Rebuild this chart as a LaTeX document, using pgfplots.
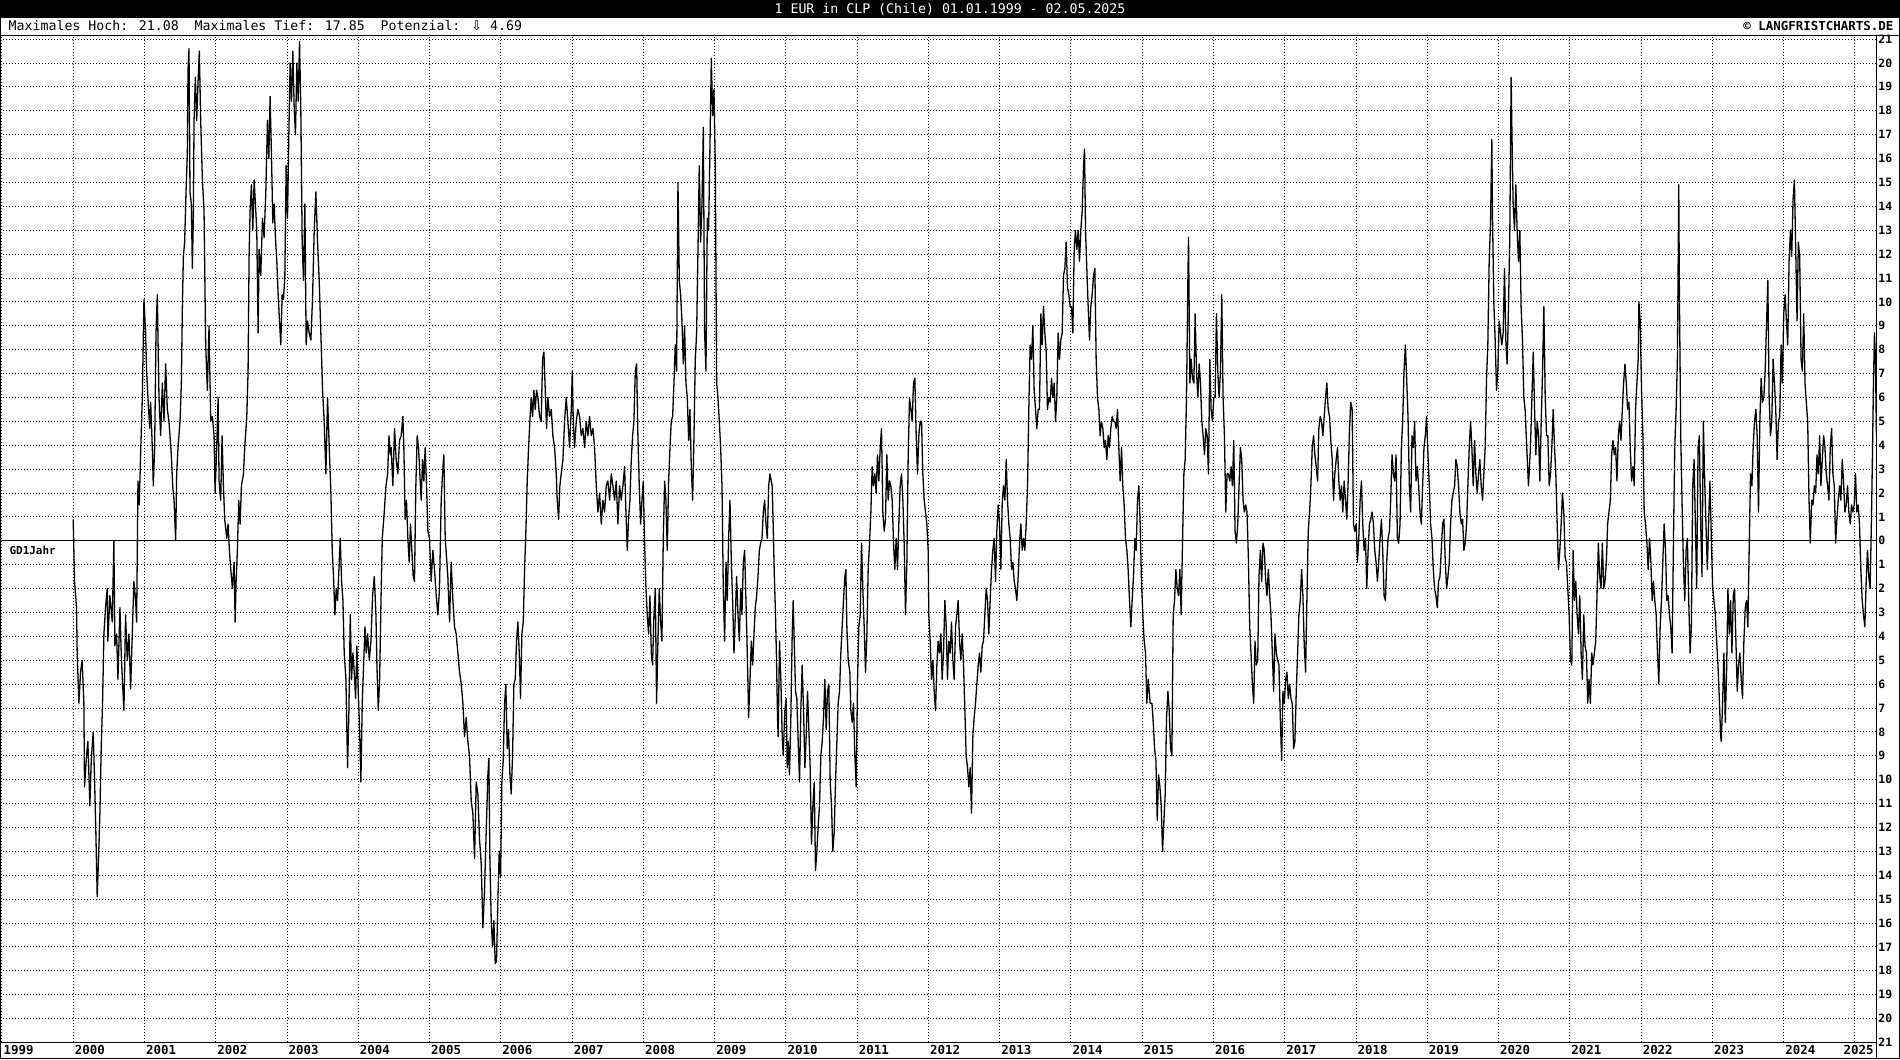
\documentclass[border=0pt]{standalone}
\usepackage{fontspec}
\setmainfont{DejaVu Sans Mono}
\newfontfamily\arrowfont{DejaVu Sans}
\usepackage{pgfplots}
\pgfplotsset{compat=1.18}
\begin{document}
\begin{tikzpicture}[x=1bp,y=1bp]
\path[fill=white] (0,0) rectangle (1900,1060);
\fill[black] (0,1042) rectangle (1900,1060);
\node[text=white, font=\fontsize{13.3}{13}\selectfont, inner sep=0] at (950,1051) {1 EUR in CLP (Chile) 01.01.1999 - 02.05.2025};
\node[anchor=base west, font=\fontsize{13.3}{13}\selectfont, inner sep=0] at (8,1029) {Maximales Hoch: 21.08\ \ Maximales Tief: 17.85\ \ Potenzial: {\arrowfont ⇩} 4.69};
\node[anchor=base east, font=\fontsize{12.5}{13}\selectfont\bfseries, inner sep=0] at (1894,1029) {© LANGFRISTCHARTS.DE};
\begin{axis}[
  at={(0bp,17bp)}, anchor=south west,
  width=1876.7bp, height=1007bp, scale only axis,
  xmin=1998.98, xmax=2025.30, ymin=-21, ymax=21.13,
  xtick={1999,2000,2001,2002,2003,2004,2005,2006,2007,2008,2009,2010,2011,2012,2013,2014,2015,2016,2017,2018,2019,2020,2021,2022,2023,2024,2025},
  xticklabels={1999,2000,2001,2002,2003,2004,2005,2006,2007,2008,2009,2010,2011,2012,2013,2014,2015,2016,2017,2018,2019,2020,2021,2022,2023,2024,\hspace*{-13bp}2025},
  ytick={-21,-20,...,21},
  yticklabels={21,20,19,18,17,16,15,14,13,12,11,10,9,8,7,6,5,4,3,2,1,0,1,2,3,4,5,6,7,8,9,10,11,12,13,14,15,16,17,18,19,20,21},
  yticklabel pos=right,
  grid=major,
  major grid style={black, line width=0.9bp, dash pattern=on 1bp off 2bp},
  major tick length=0pt,
  axis line style={line width=1bp},
  xticklabel style={font=\fontsize{12.5}{12.5}\selectfont\bfseries, anchor=north west, inner sep=1.5bp, yshift=-1bp},
  yticklabel style={font=\fontsize{11.5}{11.5}\selectfont\bfseries, anchor=west, inner sep=2bp},
]
\addplot[black, line width=1bp, forget plot] coordinates {(1998.98,0) (2025.30,0)};
\node[anchor=north west, inner sep=0, font=\fontsize{11}{11}\selectfont\bfseries] at (axis cs:1999.105,-0.2) {GD1Jahr};
\addplot[black, line width=1.3bp, line join=round] coordinates {
(2000.000,0.9) (2000.019,-1.7) (2000.047,-2.8) (2000.056,-4.7) (2000.080,-6.8) (2000.103,-5.5) (2000.126,-5.0) (2000.150,-6.8) (2000.159,-10.3) (2000.187,-9.0) (2000.206,-8.4) (2000.234,-11.1) (2000.253,-9.2) (2000.281,-8.0) (2000.300,-10.0) (2000.318,-12.2) (2000.337,-14.9) (2000.356,-13.3) (2000.375,-11.4) (2000.393,-8.7) (2000.412,-6.8) (2000.431,-3.9) (2000.454,-2.8) (2000.478,-2.0) (2000.487,-4.2) (2000.515,-2.3) (2000.548,-3.4) (2000.571,0.0) (2000.585,-4.4) (2000.609,-3.9) (2000.628,-5.8) (2000.656,-2.8) (2000.674,-4.7) (2000.693,-6.0) (2000.712,-7.1) (2000.735,-3.1) (2000.759,-5.0) (2000.782,-3.9) (2000.806,-6.2) (2000.829,-3.9) (2000.852,-1.7) (2000.876,-2.5) (2000.890,-3.4) (2000.909,2.5) (2000.927,1.5) (2000.946,3.6) (2000.970,6.0) (2000.993,10.1) (2001.016,8.7) (2001.030,7.1) (2001.049,6.0) (2001.073,4.7) (2001.087,5.8) (2001.110,3.9) (2001.124,2.3) (2001.143,3.9) (2001.162,8.7) (2001.180,10.3) (2001.204,6.0) (2001.227,4.4) (2001.251,6.6) (2001.274,5.0) (2001.297,7.4) (2001.321,5.5) (2001.344,5.0) (2001.377,3.6) (2001.396,2.3) (2001.415,1.7) (2001.438,0.0) (2001.452,2.8) (2001.471,3.9) (2001.499,5.0) (2001.518,6.6) (2001.532,9.8) (2001.546,11.9) (2001.564,12.5) (2001.583,14.6) (2001.602,16.2) (2001.611,19.7) (2001.625,20.6) (2001.639,14.6) (2001.658,14.1) (2001.672,11.4) (2001.686,13.5) (2001.696,17.6) (2001.714,19.4) (2001.733,17.6) (2001.752,19.2) (2001.770,20.5) (2001.789,17.6) (2001.813,15.1) (2001.836,13.8) (2001.859,8.2) (2001.883,6.3) (2001.906,9.0) (2001.930,5.0) (2001.953,5.2) (2001.977,4.4) (2001.991,2.0) (2002.014,3.9) (2002.033,6.0) (2002.047,2.5) (2002.070,1.7) (2002.089,4.4) (2002.108,2.3) (2002.126,0.9) (2002.155,0.1) (2002.173,0.7) (2002.192,-0.4) (2002.211,-1.2) (2002.234,-2.0) (2002.258,-0.9) (2002.272,-3.4) (2002.286,-1.7) (2002.304,-0.4) (2002.323,1.7) (2002.342,0.7) (2002.361,2.3) (2002.389,2.8) (2002.407,3.9) (2002.436,5.2) (2002.454,7.1) (2002.468,11.9) (2002.482,13.8) (2002.501,14.9) (2002.520,13.0) (2002.539,15.1) (2002.557,14.1) (2002.576,13.0) (2002.595,8.7) (2002.609,12.2) (2002.632,11.1) (2002.656,13.5) (2002.679,12.7) (2002.703,14.6) (2002.726,17.6) (2002.745,16.0) (2002.763,18.6) (2002.782,16.2) (2002.801,13.3) (2002.820,14.1) (2002.838,12.7) (2002.857,11.7) (2002.876,10.3) (2002.895,9.2) (2002.913,8.2) (2002.932,10.3) (2002.951,10.1) (2002.970,11.1) (2002.988,15.7) (2003.007,13.5) (2003.026,17.0) (2003.044,20.0) (2003.063,18.4) (2003.082,20.5) (2003.101,18.1) (2003.119,17.0) (2003.138,20.0) (2003.157,18.4) (2003.176,20.9) (2003.194,18.1) (2003.213,12.5) (2003.232,10.9) (2003.251,14.1) (2003.269,8.2) (2003.288,9.2) (2003.311,8.7) (2003.335,8.4) (2003.358,10.1) (2003.382,13.0) (2003.405,14.6) (2003.429,12.5) (2003.452,10.9) (2003.475,8.7) (2003.499,6.3) (2003.522,5.0) (2003.546,2.8) (2003.569,6.0) (2003.593,3.9) (2003.616,2.0) (2003.635,-0.4) (2003.653,-1.5) (2003.672,-3.1) (2003.691,-2.0) (2003.710,-2.5) (2003.733,-0.9) (2003.747,0.1) (2003.766,-1.7) (2003.785,-2.5) (2003.803,-4.7) (2003.827,-5.8) (2003.850,-9.5) (2003.869,-7.1) (2003.888,-3.1) (2003.906,-5.8) (2003.925,-4.7) (2003.944,-5.5) (2003.963,-6.6) (2003.981,-4.4) (2004.000,-6.3) (2004.019,-7.9) (2004.037,-10.1) (2004.056,-6.8) (2004.075,-5.2) (2004.094,-3.6) (2004.112,-4.7) (2004.131,-3.9) (2004.155,-5.0) (2004.178,-4.2) (2004.201,-2.3) (2004.225,-1.5) (2004.248,-3.1) (2004.262,-5.2) (2004.281,-7.1) (2004.300,-5.8) (2004.319,-2.5) (2004.337,0.1) (2004.365,1.2) (2004.389,2.3) (2004.412,2.8) (2004.431,4.4) (2004.450,3.6)
(2004.462,3.9) (2004.485,2.3) (2004.509,4.7) (2004.532,3.4) (2004.555,2.8) (2004.579,4.2) (2004.602,4.4) (2004.626,5.2) (2004.640,3.9) (2004.658,0.9) (2004.677,1.7) (2004.696,0.1) (2004.715,-0.9) (2004.733,0.7) (2004.752,-0.4) (2004.771,-1.5) (2004.789,-1.7) (2004.808,2.3) (2004.827,4.4) (2004.846,3.9) (2004.864,2.8) (2004.883,1.7) (2004.902,3.4) (2004.920,2.5) (2004.939,3.9) (2004.958,2.3) (2004.977,0.4) (2005.000,0.1) (2005.023,-1.7) (2005.047,-0.4) (2005.070,-1.2) (2005.094,-2.3) (2005.117,-3.1) (2005.140,-2.0) (2005.164,1.7) (2005.182,2.8) (2005.201,3.6) (2005.220,0.1) (2005.239,-0.7) (2005.257,-1.5) (2005.281,-3.4) (2005.304,-0.9) (2005.328,-2.5) (2005.351,-3.6) (2005.374,-3.9) (2005.398,-4.7) (2005.421,-5.5) (2005.445,-6.0) (2005.468,-6.8) (2005.491,-8.2) (2005.515,-7.4) (2005.538,-8.4) (2005.561,-9.0) (2005.585,-10.9) (2005.608,-11.4) (2005.632,-13.3) (2005.655,-10.1) (2005.678,-10.6) (2005.702,-12.5) (2005.725,-13.5) (2005.749,-16.2) (2005.772,-14.6) (2005.795,-12.2) (2005.819,-9.8) (2005.833,-9.1) (2005.847,-13.3) (2005.866,-15.9) (2005.884,-17.0) (2005.903,-15.9) (2005.922,-17.7) (2005.940,-17.6) (2005.959,-15.1) (2005.978,-13.0) (2005.997,-14.1) (2006.015,-10.1) (2006.034,-9.2) (2006.053,-6.8) (2006.071,-6.0) (2006.090,-8.7) (2006.109,-7.9) (2006.128,-9.8) (2006.146,-10.6) (2006.165,-9.0) (2006.184,-6.0) (2006.203,-5.8) (2006.221,-4.2) (2006.240,-3.4) (2006.259,-4.7) (2006.277,-6.6) (2006.296,-3.9) (2006.315,-3.4) (2006.334,-1.2) (2006.352,0.4) (2006.371,2.5) (2006.390,3.9) (2006.408,5.0) (2006.427,6.0) (2006.446,5.2) (2006.465,6.3) (2006.483,5.5) (2006.502,6.3) (2006.521,6.0) (2006.544,5.2) (2006.567,5.0) (2006.586,7.6) (2006.605,7.9) (2006.624,6.3) (2006.642,4.7) (2006.661,6.0) (2006.684,5.2) (2006.708,5.5) (2006.731,4.4) (2006.755,3.9) (2006.778,2.8) (2006.792,1.7) (2006.811,0.9) (2006.829,2.3) (2006.848,2.8) (2006.872,3.4) (2006.895,5.0) (2006.918,6.0) (2006.942,5.0) (2006.965,3.9) (2006.989,5.5) (2007.003,7.1) (2007.017,5.0) (2007.035,3.9) (2007.059,5.0) (2007.082,5.5) (2007.106,5.2) (2007.129,4.4) (2007.152,4.7) (2007.176,3.9) (2007.199,5.0) (2007.223,4.4) (2007.246,5.2) (2007.269,4.4) (2007.293,4.7) (2007.316,3.9) (2007.340,2.3) (2007.363,1.2) (2007.386,2.0) (2007.410,0.7) (2007.433,1.7) (2007.456,1.2) (2007.480,2.3) (2007.503,2.5) (2007.527,1.7) (2007.550,2.8) (2007.573,2.3) (2007.597,1.7) (2007.620,2.5) (2007.644,0.7) (2007.667,2.3) (2007.690,1.7) (2007.714,2.3) (2007.737,3.1) (2007.756,1.2) (2007.775,-0.4) (2007.793,0.9) (2007.812,1.7) (2007.831,3.4) (2007.850,4.4) (2007.868,5.0) (2007.887,7.1) (2007.906,7.4) (2007.924,4.4) (2007.943,2.3) (2007.962,0.7) (2007.981,1.7) (2007.999,2.5) (2008.018,-0.1) (2008.037,-2.0) (2008.055,-3.1) (2008.074,-3.9) (2008.093,-2.3) (2008.112,-4.7) (2008.130,-5.2) (2008.149,-3.1) (2008.168,-2.0) (2008.186,-6.8) (2008.205,-4.2) (2008.224,-2.0) (2008.243,-3.4) (2008.261,-4.2) (2008.280,0.1) (2008.299,2.5) (2008.317,1.7) (2008.336,-0.4) (2008.355,2.5) (2008.374,3.9) (2008.392,5.0) (2008.411,5.2) (2008.430,6.6) (2008.448,8.2) (2008.467,7.1) (2008.486,15.0) (2008.505,10.9) (2008.523,10.3) (2008.542,9.2) (2008.561,7.4) (2008.579,9.0) (2008.598,6.6) (2008.617,6.0) (2008.636,4.2) (2008.654,5.5) (2008.673,3.1) (2008.692,1.7) (2008.711,4.4) (2008.729,7.6) (2008.748,8.7) (2008.767,12.2) (2008.785,15.7) (2008.804,12.5) (2008.823,14.1) (2008.842,17.3) (2008.860,8.7) (2008.879,7.1) (2008.898,13.5) (2008.916,13.0) (2008.935,16.5) (2008.954,20.2) (2008.973,17.8) (2008.991,18.9) (2009.010,15.7) (2009.029,6.6) (2009.047,6.0) (2009.066,5.0) (2009.085,3.9) (2009.104,2.3) (2009.122,-2.0) (2009.141,-4.2) (2009.160,-0.9) (2009.178,-2.5) (2009.197,0.1) (2009.216,1.7) (2009.235,-0.9) (2009.253,-2.5) (2009.272,-4.7) (2009.291,-3.1) (2009.309,-1.5) (2009.328,-3.1) (2009.347,-4.2) (2009.366,-2.0) (2009.384,-3.1) (2009.403,-0.9) (2009.422,-0.4) (2009.440,-2.5) (2009.459,-4.7) (2009.478,-7.4) (2009.497,-5.8) (2009.515,-4.2) (2009.534,-5.2) (2009.553,-3.9) (2009.571,-2.8) (2009.590,-2.3) (2009.609,-1.5) (2009.628,-0.4) (2009.646,-0.1) (2009.665,0.1) (2009.684,1.2) (2009.702,1.7) (2009.721,0.7) (2009.740,0.1) (2009.759,2.3) (2009.777,2.8)
(2009.808,2.3) (2009.822,0.7) (2009.836,-1.2) (2009.855,-3.1) (2009.869,-5.0) (2009.883,-7.4) (2009.892,-8.2) (2009.911,-4.2) (2009.930,-5.8) (2009.949,-8.2) (2009.963,-9.0) (2009.986,-7.1) (2010.005,-6.6) (2010.019,-9.5) (2010.033,-8.4) (2010.051,-9.8) (2010.070,-7.4) (2010.089,-3.9) (2010.103,-2.5) (2010.117,-4.2) (2010.136,-6.3) (2010.154,-6.6) (2010.173,-8.4) (2010.192,-10.1) (2010.210,-7.1) (2010.229,-5.2) (2010.248,-7.1) (2010.267,-9.5) (2010.285,-8.2) (2010.304,-6.3) (2010.323,-7.9) (2010.341,-9.5) (2010.360,-12.7) (2010.379,-11.1) (2010.398,-10.1) (2010.416,-13.8) (2010.435,-13.0) (2010.454,-11.9) (2010.472,-11.1) (2010.491,-9.0) (2010.510,-8.4) (2010.529,-7.4) (2010.547,-5.8) (2010.566,-7.9) (2010.585,-6.3) (2010.603,-6.0) (2010.622,-10.1) (2010.641,-11.1) (2010.659,-13.0) (2010.678,-12.2) (2010.697,-10.1) (2010.716,-8.4) (2010.734,-6.8) (2010.753,-6.3) (2010.772,-4.7) (2010.790,-3.6) (2010.809,-2.5) (2010.828,-1.5) (2010.842,-1.2) (2010.856,-3.6) (2010.875,-5.0) (2010.898,-5.5) (2010.912,-7.1) (2010.931,-7.6) (2010.949,-6.8) (2010.968,-9.0) (2010.987,-10.3) (2011.006,-5.8) (2011.024,-3.6) (2011.043,-3.1) (2011.062,-0.1) (2011.080,-2.0) (2011.099,-3.6) (2011.118,-5.5) (2011.137,-3.9) (2011.155,-1.2) (2011.174,-0.1) (2011.193,1.2) (2011.211,3.1) (2011.230,2.3) (2011.249,2.8) (2011.267,2.0) (2011.286,3.6) (2011.305,2.5) (2011.324,3.9) (2011.342,4.7) (2011.361,1.2) (2011.380,0.4) (2011.398,0.9) (2011.417,3.6) (2011.436,1.7) (2011.455,2.5) (2011.473,2.3) (2011.492,1.7) (2011.511,-0.1) (2011.529,-1.2) (2011.548,0.1) (2011.567,-1.2) (2011.585,0.7) (2011.604,2.3) (2011.623,2.8) (2011.642,1.7) (2011.660,-0.1) (2011.679,-3.1) (2011.698,-0.9) (2011.716,3.4) (2011.735,6.0) (2011.754,5.5) (2011.773,5.0) (2011.791,6.6) (2011.810,6.8) (2011.829,4.4) (2011.847,2.8) (2011.866,4.4) (2011.885,5.0) (2011.904,5.0) (2011.922,2.8) (2011.941,1.7) (2011.960,1.2) (2011.978,0.7) (2011.997,-0.4) (2012.006,-3.1) (2012.025,-4.2) (2012.044,-5.8) (2012.063,-5.0) (2012.081,-6.3) (2012.100,-7.1) (2012.119,-5.2) (2012.137,-4.2) (2012.156,-4.7) (2012.175,-3.9) (2012.193,-5.8) (2012.212,-4.7) (2012.231,-2.5) (2012.250,-3.6) (2012.268,-5.8) (2012.287,-4.2) (2012.306,-4.7) (2012.324,-3.4) (2012.343,-5.0) (2012.362,-5.8) (2012.381,-3.6) (2012.399,-3.1) (2012.418,-2.5) (2012.437,-4.2) (2012.455,-5.0) (2012.474,-3.9) (2012.493,-5.2) (2012.512,-7.1) (2012.530,-9.0) (2012.549,-9.5) (2012.568,-10.3) (2012.586,-9.5) (2012.605,-11.4) (2012.624,-8.2) (2012.642,-7.4) (2012.661,-6.8) (2012.680,-6.0) (2012.699,-5.2) (2012.717,-4.7) (2012.736,-5.5) (2012.755,-4.4) (2012.773,-4.2) (2012.792,-3.1) (2012.811,-2.0) (2012.830,-2.5) (2012.848,-3.9) (2012.867,-2.5) (2012.886,-1.2) (2012.904,-0.4) (2012.923,0.1) (2012.942,-1.7) (2012.960,0.4) (2012.979,1.5) (2012.998,0.7) (2013.017,-1.2) (2013.035,1.5) (2013.054,2.3) (2013.073,1.7) (2013.092,3.4) (2013.110,1.7) (2013.129,0.7) (2013.148,0.1) (2013.166,-1.2) (2013.185,-0.9) (2013.204,-1.7) (2013.222,-2.0) (2013.241,-2.5) (2013.260,-1.5) (2013.279,-0.1) (2013.297,0.7) (2013.316,-0.4) (2013.335,0.1) (2013.353,-0.4) (2013.372,0.7) (2013.391,2.3) (2013.409,5.5) (2013.428,8.2) (2013.447,7.6) (2013.466,9.0) (2013.484,6.3) (2013.503,5.5) (2013.522,4.7) (2013.540,5.5) (2013.559,5.5) (2013.578,9.5) (2013.597,8.2) (2013.615,9.8) (2013.634,8.7) (2013.653,7.9) (2013.671,5.5) (2013.690,6.0) (2013.709,5.8) (2013.728,6.8) (2013.746,6.0) (2013.765,6.6) (2013.784,5.0) (2013.802,6.0) (2013.821,8.7) (2013.840,7.6) (2013.858,8.4) (2013.877,8.7) (2013.896,11.1) (2013.915,11.4) (2013.933,12.5) (2013.952,10.6) (2013.971,10.3) (2013.989,9.8) (2014.008,9.8) (2014.027,8.7) (2014.046,12.2) (2014.064,13.0) (2014.083,12.2) (2014.102,13.0) (2014.120,11.7) (2014.139,13.0) (2014.158,13.8) (2014.177,15.7) (2014.191,16.4) (2014.205,13.0) (2014.223,11.4) (2014.242,9.8) (2014.261,8.4) (2014.279,9.8) (2014.298,10.3) (2014.317,11.1) (2014.336,11.4) (2014.354,7.6) (2014.373,6.0) (2014.392,5.5) (2014.410,4.4) (2014.429,5.0) (2014.448,4.7) (2014.467,3.9) (2014.485,4.2) (2014.504,3.4) (2014.523,4.4) (2014.541,3.9) (2014.560,4.7) (2014.579,5.2) (2014.598,5.0) (2014.616,5.0) (2014.635,4.7) (2014.654,5.5) (2014.672,3.9) (2014.691,2.5) (2014.710,3.9) (2014.728,2.3) (2014.747,1.5) (2014.766,0.1) (2014.785,-0.4) (2014.803,-1.2) (2014.822,-2.5) (2014.841,-3.6) (2014.859,-2.5) (2014.878,-1.5) (2014.897,0.1) (2014.916,-0.4) (2014.934,1.7) (2014.953,2.3) (2014.972,0.7) (2014.990,-1.7) (2015.009,-3.1) (2015.028,-4.2) (2015.047,-4.7) (2015.065,-6.8) (2015.084,-5.8) (2015.112,-6.8)
(2015.137,-6.8) (2015.155,-7.6) (2015.174,-8.7) (2015.193,-9.2) (2015.211,-11.7) (2015.230,-9.8) (2015.249,-10.3) (2015.267,-11.1) (2015.286,-13.0) (2015.305,-11.7) (2015.323,-10.6) (2015.342,-7.4) (2015.361,-6.3) (2015.379,-7.1) (2015.398,-8.7) (2015.417,-9.0) (2015.435,-3.1) (2015.454,-2.5) (2015.473,-1.2) (2015.491,-2.0) (2015.510,-2.3) (2015.529,-1.2) (2015.547,-3.1) (2015.566,-0.1) (2015.585,2.8) (2015.603,3.4) (2015.622,6.0) (2015.641,10.9) (2015.650,12.7) (2015.669,6.6) (2015.687,7.6) (2015.706,6.8) (2015.725,6.6) (2015.743,9.5) (2015.762,7.1) (2015.781,6.0) (2015.799,7.4) (2015.818,6.6) (2015.837,5.0) (2015.855,4.4) (2015.874,3.6) (2015.893,4.7) (2015.911,4.4) (2015.930,2.8) (2015.949,7.6) (2015.967,5.5) (2015.986,5.0) (2016.005,6.0) (2016.023,6.0) (2016.042,9.5) (2016.061,7.1) (2016.079,6.0) (2016.098,7.1) (2016.117,10.3) (2016.135,6.0) (2016.154,4.4) (2016.173,1.2) (2016.191,2.8) (2016.210,2.8) (2016.229,2.5) (2016.247,3.1) (2016.266,2.3) (2016.285,4.2) (2016.303,0.4) (2016.322,-0.1) (2016.341,0.7) (2016.359,2.3) (2016.378,3.9) (2016.397,3.4) (2016.415,1.7) (2016.434,1.2) (2016.453,1.5) (2016.471,1.2) (2016.490,-0.7) (2016.509,-3.6) (2016.527,-4.7) (2016.546,-6.0) (2016.565,-6.8) (2016.583,-4.2) (2016.602,-5.2) (2016.621,-5.0) (2016.639,-1.5) (2016.658,-0.4) (2016.677,-1.7) (2016.695,-0.1) (2016.714,-0.4) (2016.733,-1.7) (2016.751,-2.3) (2016.770,-1.2) (2016.789,-2.3) (2016.807,-3.1) (2016.826,-4.7) (2016.845,-6.3) (2016.863,-3.9) (2016.882,-4.7) (2016.901,-5.0) (2016.919,-5.2) (2016.938,-7.4) (2016.957,-9.2) (2016.975,-6.3) (2016.994,-6.8) (2017.013,-5.8) (2017.031,-5.5) (2017.050,-6.6) (2017.069,-6.0) (2017.087,-6.6) (2017.106,-6.8) (2017.125,-8.7) (2017.143,-8.4) (2017.162,-6.3) (2017.181,-4.7) (2017.199,-3.1) (2017.218,-2.5) (2017.237,-1.2) (2017.255,-2.3) (2017.274,-4.4) (2017.293,-5.5) (2017.311,-2.5) (2017.330,0.4) (2017.349,1.2) (2017.367,2.3) (2017.386,3.9) (2017.405,4.4) (2017.423,3.6) (2017.442,3.1) (2017.461,2.5) (2017.479,4.7) (2017.498,5.2) (2017.517,5.0) (2017.535,4.4) (2017.554,5.2) (2017.573,6.0) (2017.591,6.6) (2017.610,5.5) (2017.629,5.2) (2017.647,4.2) (2017.666,3.4) (2017.685,1.7) (2017.703,2.8) (2017.722,3.4) (2017.741,3.9) (2017.759,2.5) (2017.778,1.7) (2017.797,2.3) (2017.815,1.2) (2017.834,2.5) (2017.853,1.7) (2017.871,0.9) (2017.890,2.5) (2017.909,4.7) (2017.927,5.8) (2017.946,5.5) (2017.965,0.7) (2017.983,0.4) (2018.002,0.7) (2018.021,-0.9) (2018.039,0.1) (2018.058,1.7) (2018.077,2.5) (2018.095,0.7) (2018.114,-0.4) (2018.133,0.1) (2018.151,-2.0) (2018.170,-0.4) (2018.189,0.7) (2018.207,0.9) (2018.226,1.2) (2018.245,0.7) (2018.263,-0.4) (2018.282,-0.9) (2018.301,-1.7) (2018.319,-0.9) (2018.338,0.1) (2018.357,0.9) (2018.375,-0.4) (2018.394,-2.3) (2018.413,-2.5) (2018.431,-0.9) (2018.450,0.1) (2018.469,0.4) (2018.487,1.7) (2018.506,3.6) (2018.525,2.8) (2018.543,2.5) (2018.562,3.6) (2018.581,0.1) (2018.599,-0.1) (2018.618,0.7) (2018.637,3.9) (2018.655,5.0) (2018.674,7.1) (2018.693,8.2) (2018.711,6.8) (2018.730,5.2) (2018.749,2.3) (2018.767,1.2) (2018.786,4.4) (2018.805,3.9) (2018.823,5.0) (2018.842,2.5) (2018.861,3.1) (2018.879,2.3) (2018.898,1.2) (2018.917,0.7) (2018.935,2.3) (2018.954,3.9) (2018.973,4.4) (2018.991,5.2) (2019.010,3.6) (2019.029,2.3) (2019.047,0.7) (2019.066,0.1) (2019.085,-1.2) (2019.103,-2.0) (2019.122,-2.3) (2019.141,-2.8) (2019.159,-1.7) (2019.178,-1.5) (2019.197,-0.4) (2019.215,0.7) (2019.234,0.9) (2019.253,-0.9) (2019.272,-2.0) (2019.290,-1.5) (2019.309,-0.9) (2019.327,0.7) (2019.346,1.7) (2019.365,2.0) (2019.384,2.3) (2019.402,3.4) (2019.421,3.1) (2019.439,2.3) (2019.458,1.2) (2019.477,0.7) (2019.496,0.9) (2019.514,-0.4) (2019.533,-0.1) (2019.552,0.7) (2019.570,2.3) (2019.589,3.9) (2019.608,5.0) (2019.626,3.9) (2019.645,2.3) (2019.664,4.2) (2019.682,2.8) (2019.701,2.0) (2019.720,2.8) (2019.738,3.4) (2019.757,2.3) (2019.776,1.7) (2019.794,2.8) (2019.813,3.9) (2019.832,6.8) (2019.850,8.2) (2019.869,11.7) (2019.888,13.3) (2019.906,16.8) (2019.916,13.5) (2019.934,10.0) (2019.953,8.4) (2019.972,6.3) (2019.990,7.1) (2020.009,9.2) (2020.028,8.7) (2020.046,8.2) (2020.065,8.7) (2020.084,11.4) (2020.102,8.4) (2020.121,7.4) (2020.140,9.8) (2020.158,12.7) (2020.177,19.4) (2020.187,17.3) (2020.205,14.1) (2020.224,13.0) (2020.243,14.9) (2020.261,13.0) (2020.280,11.7) (2020.299,13.0) (2020.317,9.8) (2020.336,8.4) (2020.355,6.0) (2020.373,5.5) (2020.392,4.2) (2020.420,2.3) (2020.448,3.9)
(2020.469,6.0) (2020.487,7.9) (2020.506,5.5) (2020.524,3.6) (2020.543,5.0) (2020.562,4.4) (2020.580,2.5) (2020.599,5.0) (2020.618,7.1) (2020.636,9.8) (2020.655,6.0) (2020.674,4.4) (2020.692,4.4) (2020.711,2.3) (2020.730,2.8) (2020.748,3.9) (2020.767,5.5) (2020.786,3.9) (2020.804,2.8) (2020.823,0.7) (2020.841,-1.2) (2020.860,-0.4) (2020.879,0.7) (2020.897,2.0) (2020.916,1.2) (2020.935,-0.7) (2020.953,-0.9) (2020.972,-2.0) (2020.991,-3.1) (2021.009,-5.0) (2021.028,-5.2) (2021.047,-0.4) (2021.065,-2.5) (2021.084,-1.7) (2021.103,-3.1) (2021.121,-3.9) (2021.140,-2.3) (2021.159,-4.7) (2021.177,-5.8) (2021.196,-3.1) (2021.214,-4.4) (2021.233,-4.7) (2021.252,-6.8) (2021.270,-5.8) (2021.289,-6.8) (2021.308,-4.7) (2021.326,-5.2) (2021.345,-4.7) (2021.364,-4.2) (2021.382,-2.3) (2021.401,-0.1) (2021.420,-1.5) (2021.438,-2.0) (2021.457,-0.1) (2021.476,-2.0) (2021.494,-1.7) (2021.513,-0.9) (2021.531,0.7) (2021.550,1.2) (2021.569,1.7) (2021.587,3.6) (2021.606,4.2) (2021.625,3.6) (2021.643,3.9) (2021.662,2.5) (2021.681,4.4) (2021.699,5.0) (2021.718,4.2) (2021.737,5.5) (2021.755,6.6) (2021.774,7.4) (2021.793,6.6) (2021.811,5.5) (2021.830,5.8) (2021.848,3.9) (2021.867,2.5) (2021.886,3.1) (2021.904,2.3) (2021.923,5.5) (2021.942,6.6) (2021.960,7.6) (2021.970,10.0) (2021.988,9.2) (2022.007,6.3) (2022.026,4.4) (2022.044,1.2) (2022.063,0.7) (2022.082,-0.1) (2022.100,-1.2) (2022.119,0.1) (2022.138,-0.9) (2022.156,-2.5) (2022.175,-1.7) (2022.193,-2.5) (2022.212,-3.1) (2022.231,-4.7) (2022.249,-6.0) (2022.268,-3.6) (2022.287,-2.5) (2022.305,-0.9) (2022.324,0.7) (2022.343,-0.4) (2022.361,-2.5) (2022.380,-2.3) (2022.399,-3.1) (2022.417,-3.6) (2022.436,-4.7) (2022.455,0.1) (2022.473,3.9) (2022.492,5.5) (2022.510,7.6) (2022.529,14.9) (2022.538,10.3) (2022.557,4.4) (2022.576,1.5) (2022.594,-0.9) (2022.613,-2.5) (2022.632,-0.4) (2022.650,0.1) (2022.669,-2.5) (2022.688,-4.7) (2022.706,-3.6) (2022.725,2.3) (2022.744,3.4) (2022.762,0.7) (2022.781,-2.0) (2022.800,3.9) (2022.818,4.4) (2022.837,0.7) (2022.855,-1.5) (2022.874,5.0) (2022.893,2.5) (2022.911,0.7) (2022.930,-1.2) (2022.949,0.9) (2022.967,2.5) (2022.986,0.1) (2023.005,-2.0) (2023.023,-2.5) (2023.042,-3.1) (2023.061,-4.2) (2023.079,-5.2) (2023.098,-6.6) (2023.117,-8.2) (2023.126,-8.4) (2023.144,-6.8) (2023.163,-4.7) (2023.182,-7.6) (2023.200,-5.5) (2023.219,-2.0) (2023.238,-3.9) (2023.256,-2.5) (2023.275,-4.7) (2023.294,-2.3) (2023.312,-2.0) (2023.331,-4.2) (2023.350,-6.3) (2023.368,-5.2) (2023.387,-4.7) (2023.406,-5.8) (2023.424,-6.6) (2023.443,-4.2) (2023.462,-2.8) (2023.480,-2.5) (2023.499,-3.6) (2023.517,-0.4) (2023.536,2.8) (2023.555,2.3) (2023.573,3.9) (2023.592,5.0) (2023.611,5.5) (2023.629,4.4) (2023.648,1.2) (2023.667,5.0) (2023.685,6.8) (2023.704,5.8) (2023.723,6.0) (2023.741,7.1) (2023.760,9.0) (2023.779,10.9) (2023.797,6.0) (2023.816,4.4) (2023.834,5.0) (2023.853,7.6) (2023.872,6.6) (2023.890,5.5) (2023.909,3.4) (2023.928,5.0) (2023.946,5.2) (2023.965,8.2) (2023.984,6.6) (2024.002,9.5) (2024.021,10.3) (2024.040,9.2) (2024.058,8.2) (2024.077,11.7) (2024.096,13.0) (2024.114,11.9) (2024.133,14.3) (2024.152,15.1) (2024.170,12.2) (2024.189,9.2) (2024.207,12.5) (2024.226,11.9) (2024.245,7.6) (2024.263,7.1) (2024.282,9.5) (2024.301,6.6) (2024.319,5.8) (2024.338,5.0) (2024.357,1.7) (2024.375,-0.1) (2024.394,1.7) (2024.413,1.5) (2024.431,2.3) (2024.450,2.0) (2024.469,3.6) (2024.487,2.8) (2024.506,4.4) (2024.524,2.3) (2024.543,3.4) (2024.562,4.4) (2024.580,3.9) (2024.599,2.8) (2024.618,2.3) (2024.636,1.7) (2024.655,3.9) (2024.674,4.7) (2024.692,2.8) (2024.711,2.3) (2024.730,-0.1) (2024.748,0.9) (2024.767,1.7) (2024.786,2.3) (2024.804,1.7) (2024.823,3.4) (2024.841,2.5) (2024.860,1.2) (2024.879,1.5) (2024.897,2.3) (2024.916,1.2) (2024.935,0.7) (2024.953,1.5) (2024.972,1.2) (2024.991,1.5) (2025.009,2.8) (2025.028,1.2) (2025.047,1.5) (2025.065,0.7) (2025.084,-1.2) (2025.103,-2.5) (2025.121,-3.1) (2025.140,-3.6) (2025.159,-1.7) (2025.177,-0.4) (2025.196,-1.5) (2025.214,-2.0) (2025.233,0.9) (2025.247,3.6) (2025.261,6.6) (2025.275,8.7) (2025.289,7.6) (2025.303,4.4) (2025.317,5.5) (2025.326,4.7)
};
\end{axis}
\draw[line width=1bp] (0,1024) -- (1900,1024);
\draw[line width=1bp] (1876.7,0) -- (1876.7,1024);
\draw[line width=1bp] (0.5,0.5) rectangle (1899.5,1059.5);
\end{tikzpicture}
\end{document}
